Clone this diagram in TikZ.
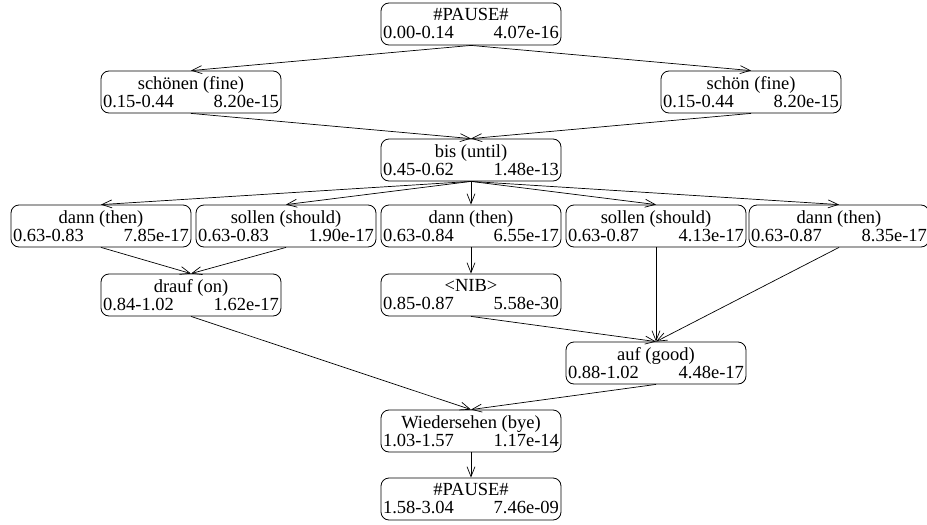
\documentclass[tikz,border=0pt]{standalone}
\usepackage{fontspec}
\setmainfont{Liberation Serif}
\usetikzlibrary{arrows.meta}
\newcommand{\nd}[3]{\parbox{176pt}{\centering #1\par\makebox[176pt]{#2\hfill #3}}}
\begin{document}
\begin{tikzpicture}[x=1pt,y=-1pt,
  wbox/.style={draw, rounded corners=8pt, minimum width=180pt, minimum height=42pt,
    inner sep=1.5pt, font=\fontsize{18.5}{18}\selectfont, line width=0.8pt},
  edge/.style={-{Straight Barb[length=10pt,width=8pt]}, line width=0.7pt}]
\useasboundingbox (0,0) rectangle (927,525);
\clip (0,0) rectangle (927,525);
\node[wbox] (p1) at (471,24) {\nd{\#PAUSE\#}{0.00-0.14}{4.07e-16}};
\node[wbox] (s1) at (191,92) {\nd{schönen (fine)}{0.15-0.44}{8.20e-15}};
\node[wbox] (s2) at (751,92) {\nd{schön (fine)}{0.15-0.44}{8.20e-15}};
\node[wbox] (bis) at (471,160) {\nd{bis (until)}{0.45-0.62}{1.48e-13}};
\node[wbox] (d1) at (101,226) {\nd{dann (then)}{0.63-0.83}{7.85e-17}};
\node[wbox] (so1) at (286,226) {\nd{sollen (should)}{0.63-0.83}{1.90e-17}};
\node[wbox] (d2) at (471,226) {\nd{dann (then)}{0.63-0.84}{6.55e-17}};
\node[wbox] (so2) at (656,226) {\nd{sollen (should)}{0.63-0.87}{4.13e-17}};
\node[wbox] (d3) at (839,226) {\nd{dann (then)}{0.63-0.87}{8.35e-17}};
\node[wbox] (dr) at (191,295) {\nd{drauf (on)}{0.84-1.02}{1.62e-17}};
\node[wbox] (nib) at (471,295) {\nd{<NIB>}{0.85-0.87}{5.58e-30}};
\node[wbox] (auf) at (656,363) {\nd{auf (good)}{0.88-1.02}{4.48e-17}};
\node[wbox] (wi) at (471,431) {\nd{Wiedersehen (bye)}{1.03-1.57}{1.17e-14}};
\node[wbox] (p2) at (471,499) {\nd{\#PAUSE\#}{1.58-3.04}{7.46e-09}};
\draw[edge] (p1.south) -- (s1.north);
\draw[edge] (p1.south) -- (s2.north);
\draw[edge] (s1.south) -- (bis.north);
\draw[edge] (s2.south) -- (bis.north);
\foreach \t in {d1,so1,d2,so2,d3} \draw[edge] (bis.south) -- (\t.north);
\draw[edge] (d1.south) -- (dr.north);
\draw[edge] (so1.south) -- (dr.north);
\draw[edge] (d2.south) -- (nib.north);
\draw[edge] (so2.south) -- (auf.north);
\draw[edge] (d3.south) -- (auf.north);
\draw[edge] (nib.south) -- (auf.north);
\draw[edge] (dr.south) -- (wi.north);
\draw[edge] (auf.south) -- (wi.north);
\draw[edge] (wi.south) -- (p2.north);
\end{tikzpicture}
\end{document}
